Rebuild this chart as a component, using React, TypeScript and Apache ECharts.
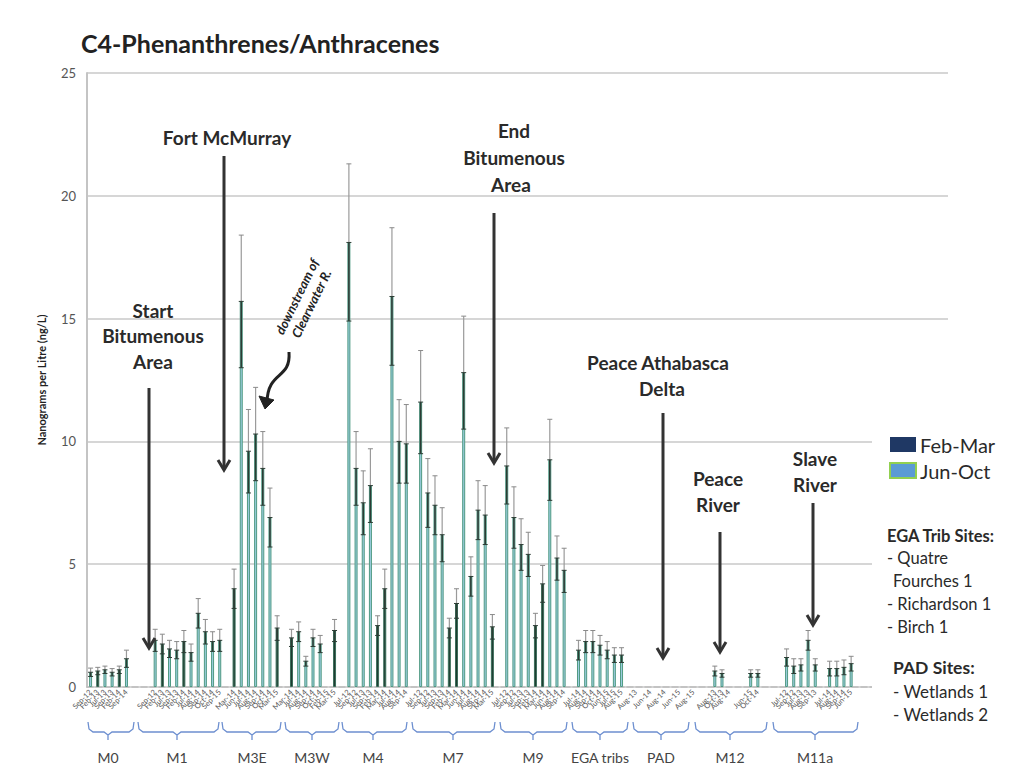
import React, { useEffect, useRef } from 'react';
import * as echarts from 'echarts';

// ---------- DATA ----------
const TOTAL_SLOTS = 120;
const Y_TICKS = [0, 5, 10, 15, 20, 25];

// each group: first slot index, date labels, means, +/- errors (null = no data)
const M0_START = 0;
const M0_DATES = ['Sep-12', 'Feb-13', 'Jul-13', 'Sep-13', 'Feb-14', 'Sep-14'];
const M0_VALUES = [0.6, 0.65, 0.7, 0.6, 0.7, 1.15];
const M0_ERRORS = [0.17, 0.15, 0.15, 0.15, 0.15, 0.35];

const M1_START = 9;
const M1_DATES = ['Sep-12', 'Feb-13', 'Jul-13', 'Sep-13', 'Feb-14', 'Jul-14', 'Aug-14', 'Sep-14', 'Oct-14', 'Sep-15'];
const M1_VALUES = [1.9, 1.75, 1.55, 1.5, 1.85, 1.4, 3.0, 2.25, 1.85, 1.9];
const M1_ERRORS = [0.45, 0.4, 0.35, 0.35, 0.45, 0.35, 0.6, 0.5, 0.4, 0.45];

const M3E_START = 20;
const M3E_DATES = ['Mar-14', 'Jun-14', 'Jul-14', 'Aug-14', 'Sep-14', 'Oct-14', 'Mar-15'];
const M3E_VALUES = [4.0, 15.7, 9.6, 10.3, 8.9, 6.9, 2.4];
const M3E_ERRORS = [0.8, 2.7, 1.7, 1.9, 1.5, 1.2, 0.5];

const M3W_START = 28;
const M3W_DATES = ['Mar-14', 'Jul-14', 'Aug-14', 'Sep-14', 'Oct-14', 'Feb-15', 'Mar-15'];
const M3W_VALUES = [2.0, 2.25, 1.05, 2.0, 1.75, null, 2.3];
const M3W_ERRORS = [0.35, 0.4, 0.2, 0.35, 0.35, null, 0.45];

const M4_START = 36;
const M4_DATES = ['Jul-12', 'Sep-12', 'Jul-13', 'Sep-13', 'Feb-14', 'Mar-14', 'Jul-14', 'Aug-14', 'Sep-14'];
const M4_VALUES = [18.1, 8.9, 7.5, 8.2, 2.5, 4.0, 15.9, 10.0, 9.9];
const M4_ERRORS = [3.2, 1.5, 1.3, 1.5, 0.4, 0.8, 2.8, 1.7, 1.6];

const M7_START = 46;
const M7_DATES = ['Jul-12', 'Sep-12', 'Jul-13', 'Sep-13', 'Feb-14', 'Mar-14', 'Jun-14', 'Jul-14', 'Aug-14', 'Sep-14', 'Mar-15'];
const M7_VALUES = [11.6, 7.9, 7.4, 6.2, 2.4, 3.4, 12.8, 4.5, 7.2, 7.0, 2.45];
const M7_ERRORS = [2.1, 1.4, 1.2, 1.1, 0.4, 0.6, 2.3, 0.8, 1.2, 1.2, 0.5];

const M9_START = 58;
const M9_DATES = ['Jul-12', 'Sep-12', 'Jul-13', 'Sep-13', 'Feb-14', 'Mar-14', 'Jun-14', 'Aug-14', 'Sep-14'];
const M9_VALUES = [9.0, 6.9, 5.8, 5.4, 2.5, 4.2, 9.25, 5.25, 4.75];
const M9_ERRORS = [1.55, 1.25, 1.05, 0.9, 0.5, 0.75, 1.65, 0.9, 0.9];

const EGA_START = 68;
const EGA_DATES = ['Jul-14', 'Aug-14', 'Sep-14', 'Oct-14', 'Jun-15', 'Jul-15', 'Aug-15'];
const EGA_VALUES = [1.5, 1.85, 1.85, 1.7, 1.5, 1.3, 1.3];
const EGA_ERRORS = [0.4, 0.45, 0.45, 0.4, 0.35, 0.3, 0.3];

const PAD_START = 76;
const PAD_DATES = ['Aug-13', '', 'Jun-14', '', 'Aug-14', '', 'Jun-15', '', 'Aug-15'];
const PAD_VALUES = [null, null, null, null, null, null, null, null, null];
const PAD_ERRORS = [null, null, null, null, null, null, null, null, null];

const M12_START = 87;
const M12_DATES = ['Aug-13', 'Oct-13', 'Aug-14', '', '', 'Jun-15', 'Oct-14'];
const M12_VALUES = [0.65, 0.55, null, null, null, 0.55, 0.55];
const M12_ERRORS = [0.2, 0.15, null, null, null, 0.15, 0.15];

const M11A_START = 97;
const M11A_DATES = ['Jul-12', 'Sep-12', 'Jul-13', 'Aug-13', 'Sep-13', '', 'Jul-14', 'Aug-14', 'Sep-14', 'Jun-15'];
const M11A_VALUES = [1.2, 0.85, 0.9, 1.9, 0.9, null, 0.75, 0.75, 0.8, 0.95];
const M11A_ERRORS = [0.35, 0.3, 0.25, 0.4, 0.25, null, 0.3, 0.3, 0.3, 0.3];

const GROUP_NAMES = ['M0', 'M1', 'M3E', 'M3W', 'M4', 'M7', 'M9', 'EGA tribs', 'PAD', 'M12', 'M11a'];

// ---------- BUILD ----------
const labels: string[] = new Array(TOTAL_SLOTS).fill('');
const values: (number | null)[] = new Array(TOTAL_SLOTS).fill(null);
const errors: (number | null)[] = new Array(TOTAL_SLOTS).fill(null);
function place(start: number, d: string[], v: (number | null)[], e: (number | null)[]) {
  d.forEach((lab, i) => {
    labels[start + i] = lab;
    values[start + i] = v[i];
    errors[start + i] = e[i];
  });
}
place(M0_START, M0_DATES, M0_VALUES, M0_ERRORS);
place(M1_START, M1_DATES, M1_VALUES, M1_ERRORS);
place(M3E_START, M3E_DATES, M3E_VALUES, M3E_ERRORS);
place(M3W_START, M3W_DATES, M3W_VALUES, M3W_ERRORS);
place(M4_START, M4_DATES, M4_VALUES, M4_ERRORS);
place(M7_START, M7_DATES, M7_VALUES, M7_ERRORS);
place(M9_START, M9_DATES, M9_VALUES, M9_ERRORS);
place(EGA_START, EGA_DATES, EGA_VALUES, EGA_ERRORS);
place(PAD_START, PAD_DATES, PAD_VALUES, PAD_ERRORS);
place(M12_START, M12_DATES, M12_VALUES, M12_ERRORS);
place(M11A_START, M11A_DATES, M11A_VALUES, M11A_ERRORS);

const isWinter = (l: string) => /^(Feb|Mar)/.test(l);
const winterData = values.map((v, i) => (v != null && isWinter(labels[i]) ? v : '-'));
const summerData = values.map((v, i) => (v != null && !isWinter(labels[i]) ? v : '-'));
const errData: number[][] = [];
values.forEach((v, i) => {
  if (v != null && errors[i] != null) errData.push([i, v, errors[i] as number]);
});

// ---------- LAYOUT (graphics) ----------
const FONT = 'Lato';
const INK = '#2a2a2a';
const ZTOP = 100;

function arrow(x: number, y1: number, y2: number) {
  return [
    { type: 'line', z: ZTOP, shape: { x1: x, y1, x2: x, y2: y2 - 2 }, style: { stroke: '#333', lineWidth: 3 } },
    {
      type: 'polyline',
      z: ZTOP,
      shape: { points: [[x - 6, y2 - 10], [x, y2], [x + 6, y2 - 10]] },
      style: { stroke: '#333', lineWidth: 3, fill: null },
    },
  ];
}

function label(text: string, x: number, y: number, size = 19, weight: any = 'bold', align: any = 'center') {
  return {
    type: 'text',
    z: ZTOP,
    x,
    y,
    style: { text, fontSize: size, fontWeight: weight, fontFamily: FONT, fill: INK, align, verticalAlign: 'middle' },
  };
}

const BRACES: [number, number, number][] = [
  [88, 134, 108],
  [138, 219, 177],
  [222, 281, 252],
  [285, 339, 312],
  [342, 407, 373],
  [412, 495, 453],
  [500, 567, 533],
  [572, 628, 600],
  [633, 689, 661],
  [695, 767, 730],
  [773, 858, 815],
];

function brace(x1: number, x2: number, cx: number, name: string) {
  const y0 = 722;
  const y = 732;
  return [
    {
      type: 'polyline',
      z: ZTOP,
      shape: {
        points: [
          [x1, y0],
          [x1 + 1, y - 3],
          [x1 + 5, y],
          [cx - 4, y],
          [cx, y + 3],
          [cx, y + 8],
          [cx, y + 3],
          [cx + 4, y],
          [x2 - 5, y],
          [x2 - 1, y - 3],
          [x2, y0],
        ],
      },
      style: { stroke: '#6d8fd0', lineWidth: 1.3, fill: null },
    },
    {
      type: 'text',
      z: ZTOP,
      x: cx,
      y: 757,
      style: { text: name, fontSize: 14, fontFamily: FONT, fill: '#444', align: 'center', verticalAlign: 'middle' },
    },
  ];
}

export default function App() {
  const ref = useRef<HTMLDivElement>(null);
  useEffect(() => {
    if (!ref.current) return;
    const chart = echarts.init(ref.current, undefined, { renderer: 'svg' });

    const graphics: any[] = [
      // white panel behind legend and notes (hides the grid lines there)
      { type: 'rect', z: 90, shape: { x: 872, y: 426, width: 149, height: 300 }, style: { fill: '#fff' } },
      {
        type: 'text',
        z: ZTOP,
        x: 81,
        y: 43,
        style: {
          text: 'C4-Phenanthrenes/Anthracenes',
          fontSize: 25,
          fontWeight: 'bold',
          fontFamily: FONT,
          fill: '#222',
          verticalAlign: 'middle',
        },
      },
      label('Start', 153, 310),
      label('Bitumenous', 153, 335),
      label('Area', 153, 361),
      ...arrow(149, 388, 648),
      label('Fort McMurray', 227, 137),
      ...arrow(224, 156, 470),
      label('End', 514, 130),
      label('Bitumenous', 514, 157),
      label('Area', 511, 184),
      ...arrow(494, 213, 463),
      label('Peace Athabasca', 658, 362),
      label('Delta', 662, 388),
      ...arrow(663, 413, 658),
      label('Peace', 718, 478),
      label('River', 718, 504),
      ...arrow(720, 532, 652),
      label('Slave', 815, 458),
      label('River', 815, 484),
      ...arrow(813, 503, 625),
      {
        type: 'text',
        z: ZTOP,
        x: 304,
        y: 300,
        rotation: (64 * Math.PI) / 180,
        style: {
          text: 'downstream of\nClearwater R.',
          fontSize: 13,
          fontWeight: 'bold',
          fontStyle: 'italic',
          fontFamily: FONT,
          fill: '#222',
          align: 'center',
          verticalAlign: 'middle',
          lineHeight: 16,
        },
      },
      {
        type: 'bezierCurve',
        z: ZTOP,
        shape: { x1: 289, y1: 352, cpx1: 291, cpy1: 380, cpx2: 268, cpy2: 370, x2: 267, y2: 402 },
        style: { stroke: '#222', lineWidth: 3, fill: null },
      },
      {
        type: 'polygon',
        z: ZTOP,
        shape: { points: [[259, 396], [265, 409], [274, 400]] },
        style: { fill: '#222', stroke: '#222', lineWidth: 1 },
      },
      // legend
      { type: 'rect', z: ZTOP, shape: { x: 890, y: 437, width: 26, height: 15 }, style: { fill: '#1f3864' } },
      label('Feb-Mar', 920, 445, 20, 'normal', 'left'),
      {
        type: 'rect',
        z: ZTOP,
        shape: { x: 890, y: 463, width: 26, height: 15 },
        style: { fill: '#5b9bd5', stroke: '#92d050', lineWidth: 2 },
      },
      label('Jun-Oct', 920, 471, 20, 'normal', 'left'),
      // notes
      label('EGA Trib Sites:', 887, 536, 16.5, 'bold', 'left'),
      label('- Quatre', 887, 558, 16.5, 'normal', 'left'),
      label('Fourches 1', 893, 581, 16.5, 'normal', 'left'),
      label('- Richardson 1', 887, 604, 16.5, 'normal', 'left'),
      label('- Birch 1', 887, 627, 16.5, 'normal', 'left'),
      label('PAD Sites:', 893, 667, 17.5, 'bold', 'left'),
      label('- Wetlands 1', 893, 691, 17, 'normal', 'left'),
      label('- Wetlands 2', 893, 714, 17, 'normal', 'left'),
    ];
    BRACES.forEach((b, i) => graphics.push(...brace(b[0], b[1], b[2], GROUP_NAMES[i])));

    chart.setOption({
      animation: false,
      backgroundColor: '#fff',
      textStyle: { fontFamily: FONT },
      grid: { left: 87, right: 73, top: 73, bottom: 87, containLabel: false },
      xAxis: {
        type: 'category',
        data: labels,
        axisTick: { show: false },
        axisLine: { lineStyle: { color: '#bdbdbd', width: 1.5, type: 'dashed' } },
        axisLabel: { interval: 0, rotate: 45, fontSize: 7.5, color: '#555', margin: 4 },
        splitLine: { show: false },
      },
      yAxis: {
        type: 'value',
        min: Y_TICKS[0],
        max: Y_TICKS[Y_TICKS.length - 1],
        interval: 5,
        name: 'Nanograms per Litre (ng/L)',
        nameLocation: 'middle',
        nameGap: 40,
        nameTextStyle: { fontSize: 11, fontWeight: 'bold', color: '#222', fontFamily: FONT },
        axisLine: { show: true, lineStyle: { color: '#c4c4c4', width: 2 } },
        axisTick: { show: false },
        axisLabel: { fontSize: 13, color: '#555', margin: 11 },
        splitLine: { lineStyle: { color: '#c8c8c8', width: 1.5 } },
      },
      series: [
        {
          name: 'Feb-Mar',
          type: 'bar',
          data: winterData,
          barWidth: 3,
          barGap: '-100%',
          itemStyle: { color: '#1e3a30', borderColor: '#3a6f5a', borderWidth: 1 },
        },
        {
          name: 'Jun-Oct',
          type: 'bar',
          data: summerData,
          barWidth: 3,
          barGap: '-100%',
          itemStyle: { color: '#9ccde0', borderColor: '#4f9a82', borderWidth: 1 },
        },
        {
          name: 'error',
          type: 'custom',
          data: errData,
          encode: { x: 0, y: 1 },
          z: 5,
          renderItem: (params: any, api: any) => {
            const i = api.value(0);
            const v = api.value(1);
            const e = api.value(2);
            const top = api.coord([i, v + e]);
            const mid = api.coord([i, v]);
            const bot = api.coord([i, Math.max(0, v - e)]);
            const x = mid[0];
            const w = 2.5;
            return {
              type: 'group',
              children: [
                { type: 'line', shape: { x1: x, y1: top[1], x2: x, y2: mid[1] }, style: { stroke: '#9a9a9a', lineWidth: 1.2 } },
                { type: 'line', shape: { x1: x, y1: mid[1], x2: x, y2: bot[1] }, style: { stroke: '#2c3c34', lineWidth: 1.6 } },
                { type: 'line', shape: { x1: x - w, y1: top[1], x2: x + w, y2: top[1] }, style: { stroke: '#8a8a8a', lineWidth: 1 } },
                { type: 'line', shape: { x1: x - w, y1: mid[1], x2: x + w, y2: mid[1] }, style: { stroke: '#2c3c34', lineWidth: 1 } },
                { type: 'line', shape: { x1: x - w, y1: bot[1], x2: x + w, y2: bot[1] }, style: { stroke: '#2c3c34', lineWidth: 1 } },
              ],
            };
          },
        },
      ],
      graphic: graphics,
    });
    return () => chart.dispose();
  }, []);
  return <div ref={ref} style={{ position: 'absolute', left: 0, top: 0, width: 1021, height: 774 }} />;
}
